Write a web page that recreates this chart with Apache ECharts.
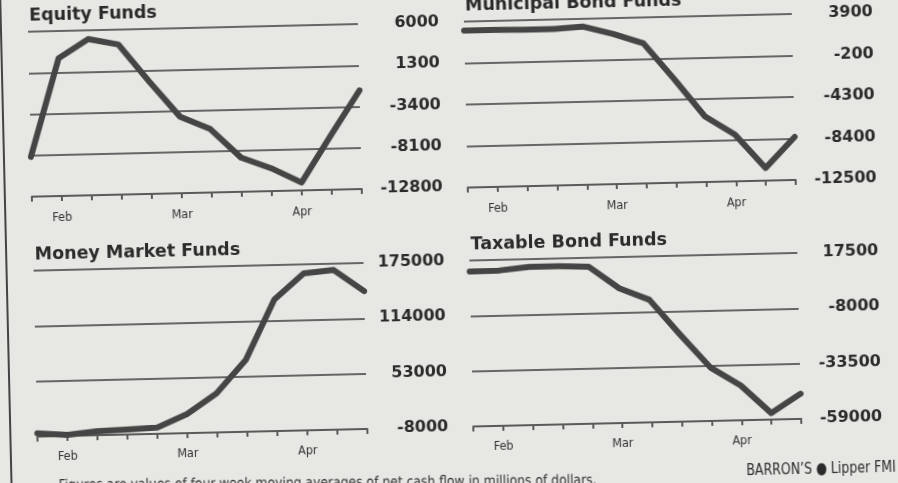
<!DOCTYPE html>
<html>
<head>
<meta charset="utf-8">
<script src="https://cdn.jsdelivr.net/npm/echarts@6/dist/echarts.min.js"></script>
<style>
  html, body { margin: 0; padding: 0; width: 898px; height: 483px; overflow: hidden; background: #e7e7e4; }
  #chart { position: absolute; left: -20px; top: -20px; width: 938px; height: 523px;
           transform: rotate(-1.33deg); transform-origin: 50% 50%; }
</style>
</head>
<body>
<div id="chart"></div>
<script>
// ---- data (weekly, four-week moving averages, $ millions) ----
const weeks = ['1', '2', '3', '4', '5', '6', '7', '8', '9', '10', '11', '12'];
const monthLabels = ['', 'Feb', '', '', '', 'Mar', '', '', '', 'Apr', '', ''];

const equityFlows    = [-8250, 2900, 5000, 4300, 0, -4080, -5570, -8900, -10200, -11900, -6650, -1560];
const municipalFlows = [3000, 3000, 2970, 2970, 3130, 2340, 1350, -2230, -6000, -7880, -11250, -8250];
const moneyFlows     = [-4500, -7000, -3700, -2600, -1000, 13000, 35000, 71000, 137000, 165000, 168000, 144000];
const taxableFlows   = [12400, 12600, 13900, 13900, 13300, 3100, -2500, -18800, -34400, -43000, -56000, -47400];

// y-axis tick settings: [min, max, step]
const equityTicks    = [-12800, 6000, 4700];
const municipalTicks = [-12500, 3900, 4100];
const moneyTicks     = [-8000, 175000, 61000];
const taxableTicks   = [-59000, 17500, 25500];

const titles = ['Equity Funds', 'Municipal Bond Funds', 'Money Market Funds', 'Taxable Bond Funds'];
const footnote = 'Figures are values of four-week moving averages of net cash flow in millions of dollars.';
const source = 'BARRON\u2019S \u25CF Lipper FMI';

// ---- layout ----
const OX = 20, OY = 20;
const layout = [
  { left: 33,  top: 22,  width: 330, height: 165 },
  { left: 469, top: 22,  width: 328, height: 166 },
  { left: 33,  top: 261, width: 330, height: 166 },
  { left: 469, top: 261, width: 328, height: 166 }
];
const seriesData = [equityFlows, municipalFlows, moneyFlows, taxableFlows];
const tickSets = [equityTicks, municipalTicks, moneyTicks, taxableTicks];

const cond = "'DejaVu Sans Condensed', 'DejaVu Sans', sans-serif";
const gridColor = '#666666';

const option = {
  backgroundColor: '#e7e7e4',
  animation: false,
  grid: layout.map(g => ({ left: g.left + OX, top: g.top + OY, width: g.width, height: g.height })),
  xAxis: layout.map((g, i) => ({
    type: 'category', gridIndex: i, data: weeks, boundaryGap: false,
    axisLine: { show: true, onZero: false, lineStyle: { color: '#5a5a5a', width: 2 } },
    axisTick: { show: true, interval: 0, length: 5, lineStyle: { color: '#5a5a5a', width: 2 } },
    axisLabel: { interval: 0, formatter: (v, idx) => monthLabels[idx], margin: i < 2 ? 15 : 14,
                 fontFamily: cond, fontSize: 12.5, color: '#333' },
    splitLine: { show: false }
  })),
  yAxis: layout.map((g, i) => ({
    type: 'value', gridIndex: i, position: 'right',
    min: tickSets[i][0], max: tickSets[i][1], interval: tickSets[i][2],
    axisLine: { show: false }, axisTick: { show: false },
    splitLine: { show: true, lineStyle: { color: gridColor, width: 2 } },
    axisLabel: { margin: 81, align: 'right', fontFamily: 'DejaVu Sans', fontWeight: 'bold',
                 fontSize: 16, color: '#2b2b2b', showMinLabel: true, showMaxLabel: true,
                 formatter: v => String(v) }
  })),
  series: seriesData.map((d, i) => ({
    type: 'line', xAxisIndex: i, yAxisIndex: i, data: d, symbol: 'none', clip: false, z: 5,
    lineStyle: { width: 6, color: '#454545', cap: 'round', join: 'round' }
  })),
  graphic: [
    ...titles.map((t, i) => ({
      type: 'text', left: layout[i].left + OX + 1.5, top: layout[i].top + OY - 24.5,
      style: { text: t, fontFamily: 'DejaVu Sans', fontWeight: 'bold', fontSize: 17.5, fill: '#2b2b2b' }
    })),
    { type: 'text', x: 591 + OX, y: 477 + OY, rotation: -0.014,
      style: { text: footnote, align: 'right', fontFamily: cond, fontSize: 13.75, fill: '#333' } },
    { type: 'text', x: 741 + OX, y: 470 + OY, scaleX: 0.86,
      style: { text: source, fontFamily: cond, fontSize: 16.2, fill: '#2b2b2b' } },
    { type: 'line', shape: { x1: 6 + OX, y1: 0, x2: 6 + OX, y2: 523 },
      style: { stroke: '#444', lineWidth: 2 } }
  ]
};

const chart = echarts.init(document.getElementById('chart'), null, { renderer: 'canvas' });
chart.setOption(option);
</script>
</body>
</html>
